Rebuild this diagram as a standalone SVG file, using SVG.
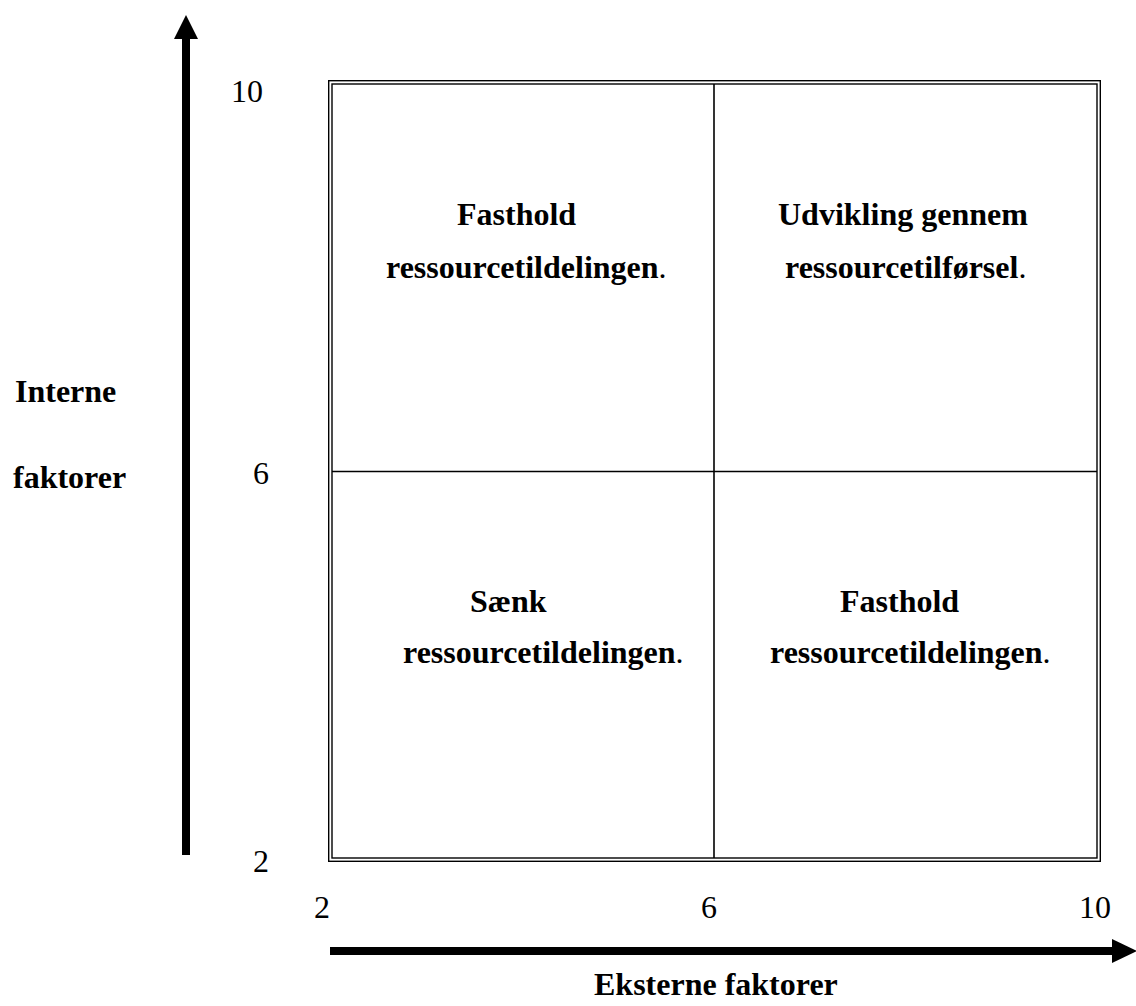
<svg xmlns="http://www.w3.org/2000/svg" width="1136" height="1006" viewBox="0 0 1136 1006">
<style>
text{font-family:"Liberation Serif","Times New Roman",serif;font-size:32px;fill:#000}
.b{font-weight:bold}
.n{font-weight:normal}
.line{stroke:#000;fill:none}
</style>
<rect width="1136" height="1006" fill="#fff"/>
<g id="axes">
<g id="y-axis">
<rect x="182" y="38" width="8" height="817" fill="#000"/>
<polygon points="186,15 174,39 198,39" fill="#000"/>
</g>
<g id="x-axis">
<rect x="330" y="947" width="784" height="8" fill="#000"/>
<polygon points="1137,951 1112,939 1112,963" fill="#000"/>
</g>
</g>
<g id="grid">
<rect x="328.7" y="80.7" width="771.6" height="780.6" class="line" stroke-width="1.4"/>
<rect x="332" y="84" width="765" height="774" class="line" stroke-width="1.4"/>
<line x1="714" y1="84" x2="714" y2="858" class="line" stroke-width="1.6"/>
<line x1="332" y1="471.5" x2="1097" y2="471.5" class="line" stroke-width="1.6"/>
</g>
<g id="ticks">
<text x="231" y="102">10</text>
<text x="253" y="484">6</text>
<text x="253" y="872">2</text>
<text x="314" y="918">2</text>
<text x="701" y="918">6</text>
<text x="1079" y="918">10</text>
</g>
<g id="labels">
<text class="b" x="15" y="402">Interne</text>
<text class="b" x="13" y="488">faktorer</text>
<text class="b" x="594" y="995">Eksterne faktorer</text>
</g>
<g id="q-top-left">
<text class="b" x="457" y="225">Fasthold</text>
<text class="b" x="386" y="278">ressourcetildelingen<tspan class="n">.</tspan></text>
</g>
<g id="q-top-right">
<text class="b" x="778" y="225">Udvikling gennem</text>
<text class="b" x="785" y="278">ressourcetilførsel<tspan class="n">.</tspan></text>
</g>
<g id="q-bottom-left">
<text class="b" x="470" y="612">Sænk</text>
<text class="b" x="403" y="663">ressourcetildelingen<tspan class="n">.</tspan></text>
</g>
<g id="q-bottom-right">
<text class="b" x="840" y="612">Fasthold</text>
<text class="b" x="770" y="663">ressourcetildelingen<tspan class="n">.</tspan></text>
</g>
</svg>
